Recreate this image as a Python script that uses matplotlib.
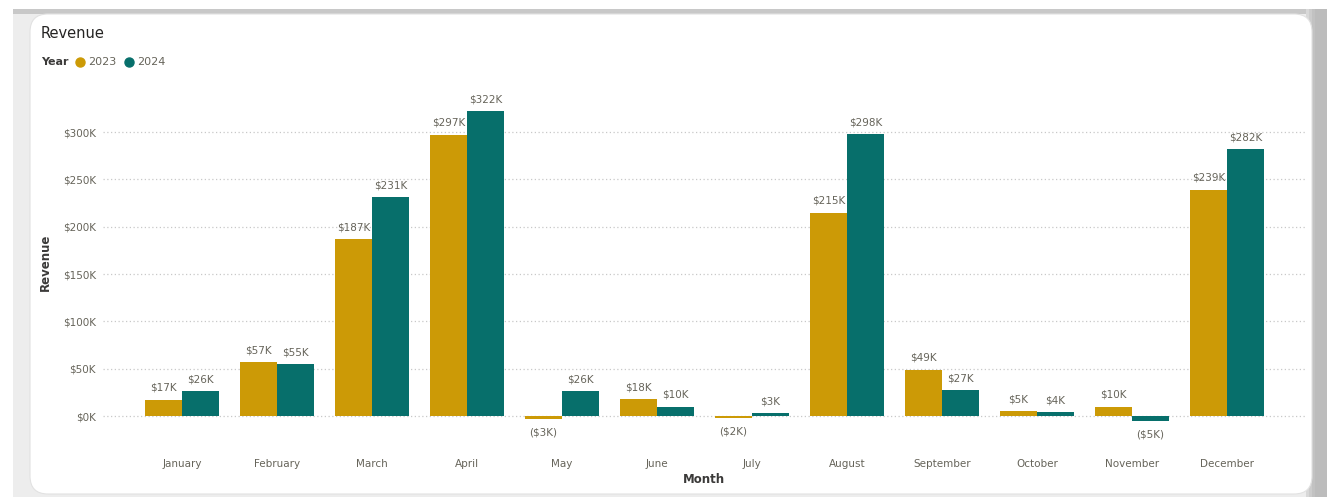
import matplotlib.pyplot as plt
import numpy as np
from matplotlib.patches import FancyBboxPatch, Rectangle
from matplotlib.lines import Line2D

months = ['January', 'February', 'March', 'April', 'May', 'June', 'July',
          'August', 'September', 'October', 'November', 'December']
rev_2023 = [17, 57, 187, 297, -3, 18, -2, 215, 49, 5, 10, 239]
rev_2024 = [26, 55, 231, 322, 26, 10, 3, 298, 27, 4, -5, 282]
y_ticks = [0, 50, 100, 150, 200, 250, 300]

c23 = '#CC9A06'
c24 = '#076F6B'
txt = '#66645A'

W, H = 1327, 497
fig = plt.figure(figsize=(W / 100, H / 100), dpi=100)
fig.patch.set_facecolor('white')

# card background with grey backdrop, drawn in pixel space
bg = fig.add_axes([0, 0, 1, 1])
bg.set_xlim(0, W)
bg.set_ylim(H, 0)
bg.axis('off')
bg.add_patch(Rectangle((13, 9), W - 13, H - 9, fc='#ededed', ec='none'))
bg.add_patch(Rectangle((13, 9), W - 13, 5, fc='#c8c8c8', ec='none'))
for i, col in enumerate(['#d8d8d8', '#cccccc', '#c2c2c2', '#bcbcbc']):
    bg.add_patch(Rectangle((1306 + i * 3, 9), W, H, fc=col, ec='none'))
bg.add_patch(FancyBboxPatch((30, 14), 1282, 480, boxstyle='round,pad=0,rounding_size=18',
                            fc='white', ec='#e2e2e2', lw=0.8))
bg.text(41, 33, 'Revenue', fontsize=10.5, color='#252423', va='center', ha='left')
bg.text(41, 62, 'Year', fontsize=8, color='#3b3a39', fontweight='bold', va='center', ha='left')
bg.add_line(Line2D([80], [62], marker='o', ms=6.5, color=c23, ls='none'))
bg.text(88, 62, '2023', fontsize=8, color=txt, va='center', ha='left')
bg.add_line(Line2D([129], [62], marker='o', ms=6.5, color=c24, ls='none'))
bg.text(137, 62, '2024', fontsize=8, color=txt, va='center', ha='left')

ax = fig.add_axes([0.0776, 0.1439, 0.9058, 0.657])
ax.patch.set_alpha(0)
x = np.arange(len(months))
w = 0.39
b1 = ax.bar(x - w / 2, rev_2023, w, color=c23, zorder=3)
b2 = ax.bar(x + w / 2, rev_2024, w, color=c24, zorder=3)

for bars, vals in ((b1, rev_2023), (b2, rev_2024)):
    for b, v in zip(bars, vals):
        cx = b.get_x() + b.get_width() / 2
        if v >= 0:
            ax.annotate(f'${v}K', (cx, v), xytext=(0, 5), textcoords='offset points',
                        ha='center', va='bottom', fontsize=7.5, color=txt)
        else:
            ax.annotate(f'(${-v}K)', (cx, v), xytext=(0, -6), textcoords='offset points',
                        ha='center', va='top', fontsize=7.5, color=txt)

ax.set_xlim(-0.83, 11.82)
ax.set_ylim(-10, 335)
ax.set_yticks(y_ticks)
ax.set_yticklabels([f'${t}K' for t in y_ticks])
ax.set_xticks(x)
ax.set_xticklabels(months)
ax.tick_params(axis='both', length=0, labelsize=7.5, labelcolor=txt)
ax.tick_params(axis='x', pad=24)
ax.tick_params(axis='y', pad=5)
ax.grid(axis='y', color='#c8c8c8', linestyle=(0, (1, 2)), lw=0.9, zorder=0)
for sp in ax.spines.values():
    sp.set_visible(False)
ax.set_xlabel('Month', fontsize=8.5, fontweight='bold', color='#3b3a39', labelpad=3)
ax.set_ylabel('Revenue', fontsize=8.5, fontweight='bold', color='#3b3a39', labelpad=8)

fig.savefig('out.png', dpi=100)
